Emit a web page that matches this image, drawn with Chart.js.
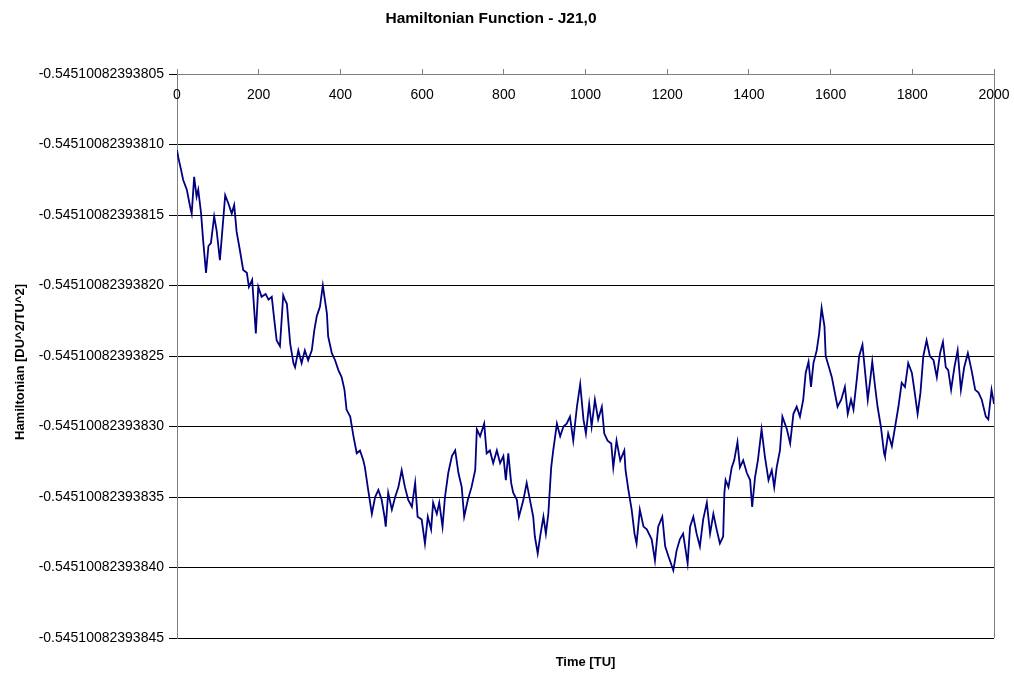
<!DOCTYPE html>
<html>
<head>
<meta charset="utf-8">
<script src="https://cdn.jsdelivr.net/npm/chart.js@4/dist/chart.umd.min.js"></script>
<style>
  body { margin: 0; background: #fff; }
</style>
</head>
<body>
<canvas id="chart" width="1014" height="679"></canvas>
<script>
// time in TU, Hamiltonian as offset in 1e-14 DU^2/TU^2 below -0.545100823938
const time = [0, 3, 10, 15, 24, 32, 36, 42, 48, 52, 59, 64, 71, 77, 83, 91, 97, 105, 109, 118,
  126, 134, 140, 146, 154, 162, 171, 176, 184, 193, 199, 207, 217, 224, 232, 238, 244, 252, 260, 264,
  269, 277, 285, 289, 297, 305, 313, 321, 330, 336, 342, 350, 357, 362, 367, 370, 379, 387, 395, 403,
  410, 415, 424, 432, 440, 448, 456, 460, 468, 477, 485, 493, 501, 508, 511, 517, 526, 534, 542, 550,
  558, 566, 575, 583, 589, 599, 607, 614, 622, 627, 636, 642, 650, 656, 664, 673, 681, 689, 697, 703,
  712, 721, 730, 734, 742, 752, 758, 766, 774, 783, 791, 799, 805, 811, 818, 823, 832, 837, 848, 856,
  864, 872, 876, 883, 889, 897, 903, 909, 916, 921, 930, 938, 946, 954, 962, 970, 979, 987, 995, 1001,
  1009, 1015, 1023, 1031, 1040, 1046, 1054, 1063, 1068, 1076, 1085, 1095, 1098, 1105, 1113, 1120, 1125, 1133, 1142, 1150,
  1162, 1170, 1178, 1188, 1195, 1203, 1215, 1223, 1231, 1239, 1250, 1256, 1264, 1272, 1280, 1288, 1297, 1305, 1313, 1321,
  1329, 1337, 1340, 1343, 1350, 1358, 1364, 1372, 1378, 1386, 1395, 1403, 1408, 1415, 1422, 1431, 1439, 1448, 1456, 1462,
  1468, 1476, 1482, 1493, 1501, 1509, 1517, 1525, 1533, 1539, 1546, 1552, 1558, 1566, 1572, 1578, 1585, 1588, 1596, 1603,
  1609, 1617, 1626, 1635, 1642, 1650, 1656, 1664, 1670, 1678, 1684, 1691, 1697, 1702, 1709, 1715, 1723, 1731, 1733, 1741,
  1750, 1758, 1766, 1774, 1782, 1790, 1799, 1805, 1813, 1820, 1827, 1835, 1843, 1852, 1860, 1868, 1875, 1882, 1888, 1895,
  1903, 1911, 1919, 1927, 1936, 1945, 1954, 1962, 1970, 1980, 1986, 1994, 2000];
const hamil = [-10.4, -10.9, -11.8, -12.5, -13.2, -14.4, -14.9, -12.3, -13.7, -13.2, -14.9, -16.8, -19.1, -17.2, -17.0, -15.1, -16.1, -18.2, -16.8, -13.6,
  -14.2, -14.9, -14.3, -16.2, -17.5, -18.9, -19.1, -20.1, -19.6, -23.4, -20.1, -20.8, -20.6, -21.0, -20.8, -22.4, -23.9, -24.3, -20.7, -21.0,
  -21.3, -24.1, -25.5, -25.8, -24.6, -25.5, -24.6, -25.3, -24.6, -23.2, -22.2, -21.5, -20.0, -21.0, -22.0, -23.6, -24.8, -25.3, -26.0, -26.5,
  -27.4, -28.8, -29.3, -30.7, -31.9, -31.7, -32.4, -32.9, -34.5, -36.2, -35.0, -34.5, -35.2, -36.4, -37.1, -34.7, -35.9, -35.0, -34.3, -33.1,
  -34.3, -35.2, -35.7, -34.0, -36.4, -36.6, -38.3, -36.4, -37.3, -35.4, -36.2, -35.4, -37.1, -35.0, -33.3, -32.1, -31.7, -33.3, -34.3, -36.4,
  -35.2, -34.3, -33.1, -30.2, -30.7, -29.8, -31.9, -31.7, -32.6, -31.7, -32.6, -32.1, -33.8, -31.9, -34.0, -34.7, -35.2, -36.4, -35.2, -34.0,
  -35.2, -36.4, -37.8, -39.0, -37.8, -36.4, -37.6, -36.2, -32.9, -31.7, -29.8, -30.7, -30.0, -29.8, -29.3, -31.0, -28.6, -27.0, -29.5, -30.5,
  -28.4, -30.0, -28.1, -29.5, -28.6, -30.5, -31.0, -31.2, -32.9, -31.0, -32.4, -31.7, -33.1, -34.5, -35.9, -37.6, -38.3, -35.9, -37.1, -37.3,
  -38.0, -39.5, -37.1, -36.4, -38.5, -39.2, -40.2, -38.8, -38.0, -37.6, -39.7, -37.1, -36.4, -37.6, -38.5, -36.6, -35.4, -37.6, -36.2, -37.3,
  -38.3, -37.8, -34.7, -33.8, -34.3, -32.9, -32.4, -31.1, -32.9, -32.4, -33.3, -33.8, -35.7, -33.6, -32.4, -30.2, -32.1, -33.8, -33.1, -34.3,
  -32.9, -31.7, -29.3, -30.2, -31.2, -29.1, -28.6, -29.3, -28.1, -26.2, -25.4, -27.2, -25.5, -24.6, -23.4, -21.6, -22.9, -25.0, -25.8, -26.5,
  -27.4, -28.6, -28.1, -27.2, -29.1, -28.1, -28.8, -26.7, -25.0, -24.2, -26.0, -28.1, -26.7, -25.4, -27.2, -28.6, -30.0, -31.9, -32.1, -30.5,
  -31.4, -30.0, -28.6, -26.9, -27.2, -25.5, -26.2, -27.4, -29.1, -27.6, -25.0, -23.9, -25.0, -25.3, -26.5, -24.8, -24.0, -25.8, -26.0, -27.4,
  -25.8, -24.6, -27.4, -25.8, -24.8, -26.0, -27.4, -27.6, -28.1, -29.3, -29.5, -27.4, -28.4];
const xTicks = [0, 200, 400, 600, 800, 1000, 1200, 1400, 1600, 1800, 2000];
const yPrefix = '-0.545100823938';

const chartTitle = 'Hamiltonian Function - J21,0';
const xTitle = 'Time [TU]';
const yTitle = 'Hamiltonian [DU^2/TU^2]';
const fontFam = '"Liberation Sans", Arial, sans-serif';

const extras = {
  id: 'extras',
  afterDraw(chart) {
    const c = chart.ctx;
    const a = chart.chartArea;
    const sx = chart.scales.x;
    c.save();
    // right border of plot area
    c.strokeStyle = '#808080';
    c.lineWidth = 1;
    c.beginPath();
    c.moveTo(a.right + 0.5, a.top);
    c.lineTo(a.right + 0.5, a.bottom);
    c.stroke();
    // x tick labels sit under the top axis line
    c.fillStyle = '#000';
    c.font = '14px ' + fontFam;
    c.textAlign = 'center';
    c.textBaseline = 'middle';
    xTicks.forEach(t => c.fillText(String(t), sx.getPixelForValue(t), a.top + 21));
    // titles
    c.font = 'bold 15.5px ' + fontFam;
    c.fillText(chartTitle, 491, 19);
    c.font = 'bold 13px ' + fontFam;
    c.fillText(xTitle, (a.left + a.right) / 2, 662);
    c.translate(20, 362);
    c.rotate(-Math.PI / 2);
    c.fillText(yTitle, 0, 0);
    c.restore();
  }
};

new Chart(document.getElementById('chart'), {
  type: 'line',
  data: {
    datasets: [{
      data: time.map((t, i) => ({x: t, y: hamil[i]})),
      borderColor: '#000080',
      borderWidth: 1.8,
      pointRadius: 0,
      tension: 0,
      fill: false
    }]
  },
  options: {
    responsive: false,
    animation: false,
    layout: {padding: {left: 0, top: 0, right: 20, bottom: 41}},
    plugins: {legend: {display: false}, title: {display: false}, tooltip: {enabled: false}},
    scales: {
      x: {
        type: 'linear',
        position: 'top',
        min: 0,
        max: 2000,
        ticks: {stepSize: 200, display: false},
        grid: {drawOnChartArea: false, drawTicks: true, tickLength: 5, color: '#808080'},
        border: {color: '#808080'},
        afterFit(s) { s.height = 74; }
      },
      y: {
        min: -45,
        max: -5,
        ticks: {
          stepSize: 5,
          color: '#000',
          padding: 5,
          font: {family: fontFam, size: 14},
          callback: v => yPrefix + String(-v).padStart(2, '0')
        },
        grid: {color: '#000', tickLength: 8},
        border: {color: '#808080'},
        afterFit(s) { s.width = 177; }
      }
    }
  },
  plugins: [extras]
});
</script>
</body>
</html>
